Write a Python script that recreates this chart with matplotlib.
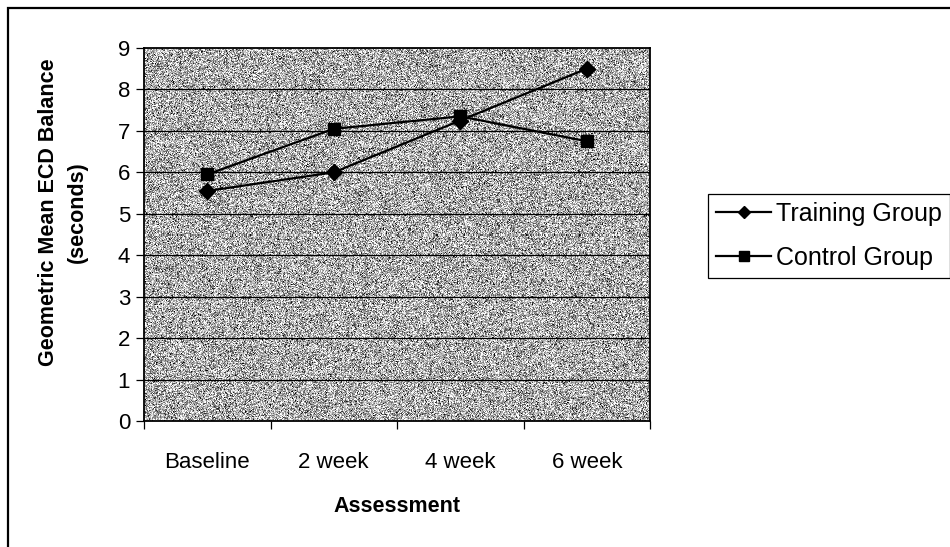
import numpy as np
import matplotlib.pyplot as plt
from matplotlib.patches import Rectangle

plt.rcParams['font.family'] = ['Liberation Sans', 'DejaVu Sans']

# assessment points and geometric mean ECD balance (seconds)
assessments = ['Baseline', '2 week', '4 week', '6 week']
training = [5.55, 6.0, 7.25, 8.5]
control = [5.95, 7.05, 7.35, 6.75]

fig = plt.figure(figsize=(9.5, 5.47), dpi=100)
ax = fig.add_axes([144 / 950, 1 - 421 / 547, 506 / 950, 373 / 547])

# grainy grey fill behind the plot area
rng = np.random.default_rng(3)
grain = np.clip(rng.normal(0.68, 0.26, size=(373, 506)), 0, 1)
ax.imshow(grain, cmap='gray', vmin=0, vmax=1, extent=(-0.5, 3.5, 0, 9),
          aspect='auto', interpolation='nearest', zorder=0)

x = np.arange(len(assessments))
ax.plot(x, training, color='black', lw=1.6, marker='D', ms=8,
        label='Training Group', zorder=3)
ax.plot(x, control, color='black', lw=1.6, marker='s', ms=9,
        label='Control Group', zorder=3)

ax.set_xlim(-0.5, 3.5)
ax.set_ylim(0, 9)
ax.set_yticks(range(0, 10))
for yv in range(1, 9):
    ax.axhline(yv, color='black', lw=0.9, zorder=1)

ax.set_xticks(x)
ax.set_xticklabels(assessments)
ax.set_xticks(np.arange(-0.5, 4, 1), minor=True)
ax.tick_params(axis='x', which='major', length=0, pad=22, labelsize=16)
ax.tick_params(axis='x', which='minor', length=6, width=0.9, direction='out')
ax.tick_params(axis='y', length=6, width=0.9, direction='out', pad=4, labelsize=16)
for s in ax.spines.values():
    s.set_linewidth(1.3)
    s.set_color('black')

fig.text(63 / 950, 1 - 212 / 547, 'Geometric Mean ECD Balance\n(seconds)',
         rotation=90, ha='center', va='center', fontsize=15.5, fontweight='bold',
         linespacing=1.5, multialignment='center')
fig.text(397 / 950, 1 - 506 / 547, 'Assessment', ha='center', va='center',
         fontsize=15.5, fontweight='bold')

leg = ax.legend(loc='upper left', bbox_to_anchor=(708 / 950, 1 - 194 / 547),
                bbox_transform=fig.transFigure, borderaxespad=0, fontsize=18,
                frameon=True, fancybox=False, edgecolor='black', framealpha=1,
                handlelength=2.2, handletextpad=0.2, borderpad=0.32,
                labelspacing=0.78, markerscale=0.8)
leg.get_frame().set_linewidth(0.9)

# outer chart border (only its top and left edges fall inside the image)
fig.patches.append(Rectangle((8 / 950, -0.1), 1.2, 1.1 - 8 / 547,
                             transform=fig.transFigure, fill=False,
                             edgecolor='black', lw=1.6))

fig.savefig('out.png', dpi=100)
